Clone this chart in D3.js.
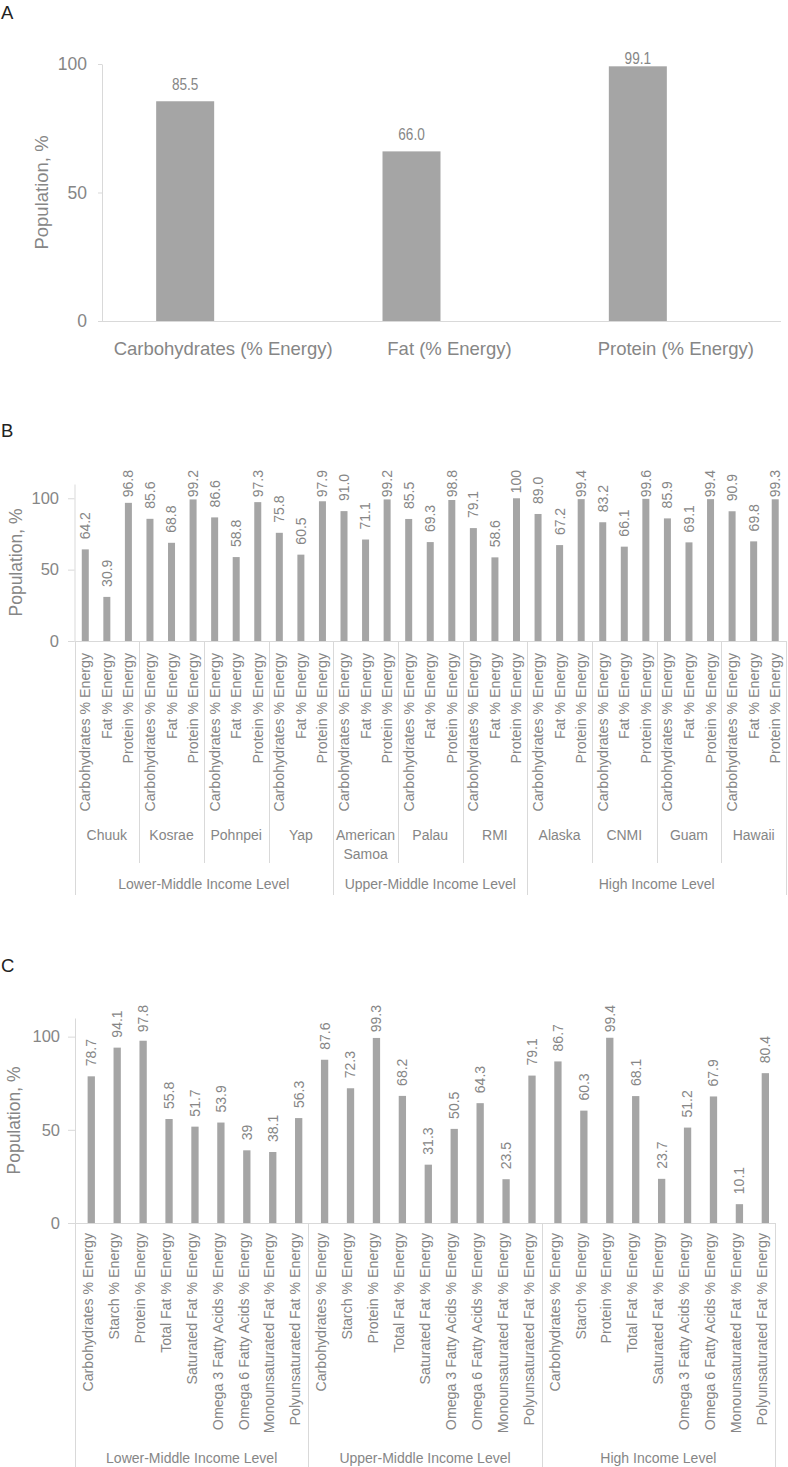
<!DOCTYPE html>
<html><head><meta charset="utf-8">
<script src="https://cdn.jsdelivr.net/npm/d3@7/dist/d3.min.js"></script>
<style>
body{margin:0;background:#fff}
svg{display:block;background:#fff}
text{font-family:"Liberation Sans",Arial,sans-serif}
</style>
</head><body>
<svg id="chart" width="788" height="1467"></svg>
<script>
// ---------------- DATA ----------------
const yTicks = [0, 50, 100];
const wholeNumberLabels = [100, 39];

// Panel A
const aCategories = ["Carbohydrates (% Energy)", "Fat (% Energy)", "Protein (% Energy)"];
const aValues = [85.5, 66.0, 99.1];

// Panel B
const bIncomeGroups = ["Lower-Middle Income Level", "Upper-Middle Income Level", "High Income Level"];
const bCountries = ["Chuuk", "Kosrae", "Pohnpei", "Yap", "American Samoa", "Palau", "RMI", "Alaska", "CNMI", "Guam", "Hawaii"];
const bCountryGroup = [0, 0, 0, 0, 1, 1, 1, 2, 2, 2, 2];
const bNutrients = ["Carbohydrates % Energy", "Fat % Energy", "Protein % Energy"];
const bCarbohydrates = [64.2, 85.6, 86.6, 75.8, 91.0, 85.5, 79.1, 89.0, 83.2, 85.9, 90.9];
const bFat = [30.9, 68.8, 58.8, 60.5, 71.1, 69.3, 58.6, 67.2, 66.1, 69.1, 69.8];
const bProtein = [96.8, 99.2, 97.3, 97.9, 99.2, 98.8, 100, 99.4, 99.6, 99.4, 99.3];

// Panel C
const cIncomeGroups = ["Lower-Middle Income Level", "Upper-Middle Income Level", "High Income Level"];
const cNutrients = ["Carbohydrates % Energy", "Starch % Energy", "Protein % Energy", "Total Fat % Energy",
  "Saturated Fat % Energy", "Omega 3 Fatty Acids % Energy", "Omega 6 Fatty Acids % Energy",
  "Monounsaturated Fat % Energy", "Polyunsaturated Fat % Energy"];
const cLowerMiddle = [78.7, 94.1, 97.8, 55.8, 51.7, 53.9, 39, 38.1, 56.3];
const cUpperMiddle = [87.6, 72.3, 99.3, 68.2, 31.3, 50.5, 64.3, 23.5, 79.1];
const cHigh = [86.7, 60.3, 99.4, 68.1, 23.7, 51.2, 67.9, 10.1, 80.4];

// ---------------- STYLE ----------------
const TEXT = "#868686", AXIS = "#d9d9d9", BAR = "#a5a5a5", LETTER = "#222";
const fmt = v => wholeNumberLabels.includes(v) ? String(v) : v.toFixed(1);

const svg = d3.select("#chart");

function yAxis(y, x, tickLen, pad, fs) {
  const ax = svg.append("g").attr("transform", `translate(${x},0)`)
    .call(d3.axisLeft(y).tickValues(yTicks).tickSize(tickLen).tickSizeOuter(0)
      .tickPadding(pad).tickFormat(d3.format("d")));
  ax.attr("font-family", null).attr("font-size", fs);
  ax.select(".domain").attr("stroke", AXIS);
  ax.selectAll(".tick line").attr("stroke", AXIS);
  ax.selectAll(".tick text").attr("fill", TEXT);
  return ax;
}
function letter(t, y) {
  svg.append("text").attr("x", 1).attr("y", y).attr("font-size", 18.5).attr("fill", LETTER).text(t);
}
function yTitle(bx, cy, fs) {
  svg.append("text").attr("transform", `translate(${bx},${cy}) rotate(-90)`)
    .attr("text-anchor", "middle").attr("font-size", fs).attr("fill", TEXT).text("Population, %");
}
function rotatedValueLabels(data, cx, y, clampTop, fs) {
  svg.append("g").selectAll("text").data(data).join("text")
    .attr("font-size", fs).attr("fill", TEXT).attr("text-anchor", "start").attr("dy", "0.35em")
    .text(d => fmt(d.value))
    .each(function (d) {
      const L = this.getComputedTextLength();
      let ys = y(d.value) - 10;
      if (ys - L < clampTop) ys = clampTop + L;
      d3.select(this).attr("transform", `translate(${cx(d)},${ys}) rotate(-90)`);
    });
}
function rotatedCategoryLabels(data, cx, top, fs) {
  svg.append("g").selectAll("text").data(data).join("text")
    .attr("font-size", fs).attr("fill", TEXT).attr("text-anchor", "end").attr("dy", "0.35em")
    .attr("transform", d => `translate(${cx(d)},${top}) rotate(-90)`)
    .text(d => d.nutrient);
}
function wrapLines(text, width, fs) {
  const tmp = svg.append("text").attr("font-size", fs);
  const words = text.split(" "), lines = [];
  let line = [];
  words.forEach(w => {
    const test = line.concat(w).join(" ");
    tmp.text(test);
    if (tmp.node().getComputedTextLength() > width && line.length) { lines.push(line.join(" ")); line = [w]; }
    else line.push(w);
  });
  lines.push(line.join(" "));
  tmp.remove();
  return lines;
}

// ---------------- PANEL A ----------------
{
  letter("A", 18.5);
  const y = d3.scaleLinear().domain([0, 100]).range([321, 64]);
  const x = d3.scaleBand().domain(aCategories).range([102, 781]);
  const barW = 58, barOff = -30, labelOff = 8;
  const data = aCategories.map((c, i) => ({ cat: c, value: aValues[i] }));

  svg.append("line").attr("x1", 98).attr("x2", 781).attr("y1", y(0) + 0.5).attr("y2", y(0) + 0.5).attr("stroke", AXIS);
  yAxis(y, 102, 4, 11, 17.5);
  yTitle(48, (y(0) + y(100)) / 2, 18.5);

  svg.append("g").selectAll("rect").data(data).join("rect")
    .attr("x", d => x(d.cat) + x.bandwidth() / 2 + barOff - barW / 2)
    .attr("width", barW)
    .attr("y", d => y(d.value)).attr("height", d => y(0) - y(d.value))
    .attr("fill", BAR);

  svg.append("g").selectAll("text").data(data).join("text")
    .attr("transform", d => `translate(${x(d.cat) + x.bandwidth() / 2 + barOff},${Math.max(y(d.value) - 11, y(100))}) scale(0.85,1)`)
    .attr("text-anchor", "middle").attr("font-size", 16).attr("fill", TEXT)
    .text(d => fmt(d.value));

  svg.append("g").selectAll("text").data(aCategories).join("text")
    .attr("x", d => x(d) + x.bandwidth() / 2 + labelOff)
    .attr("y", 355).attr("text-anchor", "middle").attr("font-size", 18.5).attr("fill", TEXT)
    .text(d => d);
}

// ---------------- PANEL B ----------------
{
  letter("B", 436.7);
  const y0 = 641, x0 = 74.5, x1 = 786;
  const y = d3.scaleLinear().domain([0, 110]).range([y0, 484]);
  const data = [];
  bCountries.forEach((c, i) => {
    [bCarbohydrates, bFat, bProtein].forEach((arr, j) => {
      data.push({ key: c + "|" + j, country: i, nutrient: bNutrients[j], value: arr[i] });
    });
  });
  const x = d3.scaleBand().domain(data.map(d => d.key)).range([x0, x1]);
  const cx = d => x(d.key) + x.bandwidth() / 2;
  const barW = 7;

  svg.append("line").attr("x1", x0).attr("x2", x1).attr("y1", y0 + 0.5).attr("y2", y0 + 0.5).attr("stroke", AXIS);
  yAxis(y, x0, 6.5, 9, 16.5);
  yTitle(21.5, (y(0) + y(110)) / 2, 17.5);

  svg.append("g").selectAll("rect").data(data).join("rect")
    .attr("x", d => cx(d) - barW / 2).attr("width", barW)
    .attr("y", d => y(d.value)).attr("height", d => y(0) - y(d.value))
    .attr("fill", BAR);

  rotatedValueLabels(data, cx, y, y(110) - 14, 14);
  rotatedCategoryLabels(data, cx, y0 + 12, 14.2);

  const countryStart = i => x(bCountries[i] + "|0");
  const bounds = bCountries.map((c, i) => countryStart(i)).concat([x1]);
  const groupStartIdx = [0];
  bCountryGroup.forEach((g, i) => { if (i > 0 && g !== bCountryGroup[i - 1]) groupStartIdx.push(i); });
  bounds.forEach((bx, i) => {
    const isGroup = groupStartIdx.includes(i) || i === bCountries.length;
    svg.append("line").attr("x1", Math.round(bx) + 0.5).attr("x2", Math.round(bx) + 0.5)
      .attr("y1", y0).attr("y2", isGroup ? 895 : 863).attr("stroke", AXIS);
  });
  bCountries.forEach((c, i) => {
    const mid = (bounds[i] + bounds[i + 1]) / 2;
    const lines = wrapLines(c, bounds[i + 1] - bounds[i] - 4, 14);
    const t = svg.append("text").attr("text-anchor", "middle").attr("font-size", 14).attr("fill", TEXT);
    lines.forEach((l, k) => t.append("tspan").attr("x", mid).attr("y", 840 + k * 19).text(l));
  });
  bIncomeGroups.forEach((g, gi) => {
    const idx = bCountries.map((c, i) => i).filter(i => bCountryGroup[i] === gi);
    const a = bounds[idx[0]], b = bounds[idx[idx.length - 1] + 1];
    svg.append("text").attr("x", (a + b) / 2).attr("y", 889).attr("text-anchor", "middle")
      .attr("font-size", 14).attr("fill", TEXT).text(g);
  });
}

// ---------------- PANEL C ----------------
{
  letter("C", 971.5);
  const y0 = 1223, x0 = 75, x1 = 775;
  const y = d3.scaleLinear().domain([0, 110]).range([y0, 1018]);
  const data = [];
  [cLowerMiddle, cUpperMiddle, cHigh].forEach((arr, g) => {
    cNutrients.forEach((n, j) => data.push({ key: g + "|" + j, group: g, nutrient: n, value: arr[j] }));
  });
  const x = d3.scaleBand().domain(data.map(d => d.key)).range([x0, x1]);
  const cx = d => x(d.key) + x.bandwidth() / 2;
  const barW = 7.3, barOff = 3.3;

  svg.append("line").attr("x1", x0).attr("x2", x1).attr("y1", y0 + 0.5).attr("y2", y0 + 0.5).attr("stroke", AXIS);
  yAxis(y, x0, 7, 8, 16.5);
  yTitle(20, (y(0) + y(110)) / 2, 17.5);

  svg.append("g").selectAll("rect").data(data).join("rect")
    .attr("x", d => cx(d) + barOff - barW / 2).attr("width", barW)
    .attr("y", d => y(d.value)).attr("height", d => y(0) - y(d.value))
    .attr("fill", BAR);

  rotatedValueLabels(data, d => cx(d) + barOff, y, y(110) - 13, 14);
  rotatedCategoryLabels(data, cx, y0 + 10, 14.2);

  const bounds = cIncomeGroups.map((g, gi) => x(gi + "|0")).concat([x1]);
  bounds.forEach(bx => {
    svg.append("line").attr("x1", Math.round(bx) + 0.5).attr("x2", Math.round(bx) + 0.5)
      .attr("y1", y0).attr("y2", 1467).attr("stroke", AXIS);
  });
  cIncomeGroups.forEach((g, gi) => {
    svg.append("text").attr("x", (bounds[gi] + bounds[gi + 1]) / 2).attr("y", 1463)
      .attr("text-anchor", "middle").attr("font-size", 14).attr("fill", TEXT).text(g);
  });
}
</script>
</body></html>
